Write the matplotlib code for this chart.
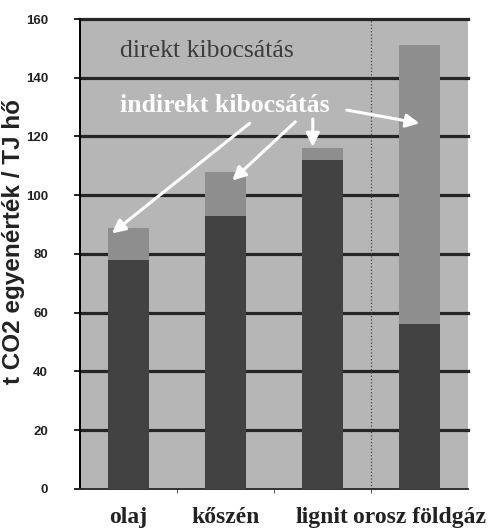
import matplotlib.pyplot as plt
import numpy as np

# adatok
kategoriak = ['olaj', 'kőszén', 'lignit', 'orosz földgáz']
direkt = [78, 93, 112, 56]
osszes = [89, 108, 116, 151]
indirekt = [o - d for o, d in zip(osszes, direkt)]
y_ticks = [0, 20, 40, 60, 80, 100, 120, 140, 160]

fig = plt.figure(figsize=(4.99, 5.28), dpi=100)
ax = fig.add_axes([0.160, 0.074, 0.778, 0.890])
ax.set_facecolor('#b6b6b6')

x = np.arange(len(kategoriak))
ax.bar(x, direkt, width=0.43, color='#424242', zorder=3)
ax.bar(x, indirekt, width=0.43, bottom=direkt, color='#8e8e8e', zorder=3)

ax.set_xlim(-0.5, 3.5)
ax.set_ylim(0, 160)
ax.set_yticks(y_ticks)
# vizszintes racsvonalak
for yv in y_ticks[1:]:
    ax.plot([-0.5, 3.5], [yv, yv], color='#262626', linewidth=2.3, zorder=2, clip_on=False)
ax.axvline(2.5, color='#444444', linestyle=':', linewidth=0.9, zorder=2)

ax.set_xticks(x)
ax.set_xticklabels(kategoriak, family='Liberation Serif', fontsize=17, fontweight='bold', color='#222222')
ax.set_xticks([0.5, 1.5, 2.5], minor=True)
ax.tick_params(axis='x', which='major', length=0, pad=13)
ax.tick_params(axis='x', which='minor', length=3, direction='out', color='#333333')
ax.tick_params(axis='y', direction='inout', length=8, width=1.4, labelsize=9.5, colors='#222222', pad=19)
for lbl in ax.get_yticklabels():
    lbl.set_family('Liberation Sans')
    lbl.set_fontweight('bold')

ax.spines['right'].set_visible(False)
ax.spines['top'].set_visible(False)
ax.spines['left'].set_linewidth(1.4)
ax.spines['bottom'].set_color('#333333')
ax.spines['bottom'].set_linewidth(1.4)

ax.set_ylabel('t CO2 egyenérték / TJ hő', family='Liberation Sans', fontsize=17.5,
              fontweight='bold', color='#222222')
ax.yaxis.set_label_coords(-0.142, 0.526)

ax.text(0.81, 149, 'direkt kibocsátás', family='Liberation Serif', fontsize=18.5,
        color='#3c3c3c', ha='center', va='center', zorder=5)
ax.text(0.99, 130.6, 'indirekt kibocsátás', family='Liberation Serif', fontsize=18.5,
        fontweight='bold', color='white', ha='center', va='center', zorder=5)

nyilak = [((1.25, 124.5), (-0.17, 87)),
          ((1.72, 125), (1.07, 105)),
          ((1.90, 126), (1.90, 116.5)),
          ((2.25, 129), (3.0, 124.5))]
for start, end in nyilak:
    ax.annotate('', xy=end, xytext=start, zorder=6,
                arrowprops=dict(arrowstyle='-|>', color='white', lw=2.2, mutation_scale=20,
                                shrinkA=0, shrinkB=0))

fig.savefig('out.png', dpi=100)
